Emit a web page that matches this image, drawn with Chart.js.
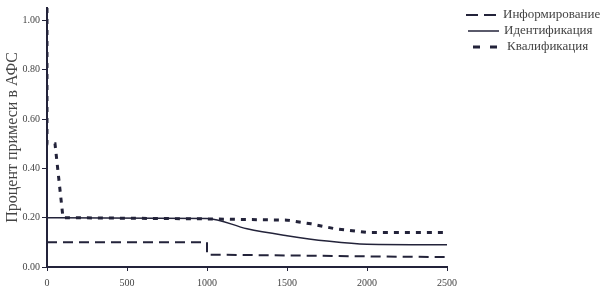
<!DOCTYPE html>
<html>
<head>
<meta charset="utf-8">
<script src="https://cdn.jsdelivr.net/npm/chart.js@4.4.0/dist/chart.umd.min.js"></script>
<style>
  html, body { margin: 0; padding: 0; background: #fff; }
  #wrap { width: 604px; height: 295px; }
</style>
</head>
<body>
<div id="wrap"><canvas id="chart" width="604" height="295"></canvas></div>
<script>
// --- data ---
const seriesNames = ["Информирование", "Идентификация", "Квалификация"];

const infoX = [0, 1000, 1000, 1500, 2000, 2500];
const infoY = [0.10, 0.10, 0.05, 0.047, 0.043, 0.04];

const identX = [0, 1000, 1250, 1500, 1750, 2000, 2500];
const identY = [0.20, 0.197, 0.155, 0.127, 0.105, 0.092, 0.09];

const kvalX = [0, 0, 50, 100, 1000, 1500, 1650, 1800, 2000, 2500];
const kvalY = [1.05, 0.50, 0.50, 0.20, 0.195, 0.19, 0.175, 0.155, 0.14, 0.14];

const xTicks = [0, 500, 1000, 1500, 2000, 2500];
const yTicks = [0, 0.2, 0.4, 0.6, 0.8, 1.0];

const ink = "#23233a";
const textCol = "#444";

function toPoints(xs, ys) {
  return xs.map((x, i) => ({ x, y: ys[i] }));
}

// --- legend drawn in the right margin ---
const sideLegend = {
  id: "sideLegend",
  afterDraw(chart) {
    const ctx = chart.ctx;
    const rows = [
      { y: 15, x0: 466, x1: 499, tx: 503 },
      { y: 31, x0: 468, x1: 499, tx: 504 },
      { y: 47, x0: 473, x1: 499, tx: 507 },
    ];
    ctx.save();
    chart.data.datasets.forEach((ds, i) => {
      const r = rows[i];
      ctx.strokeStyle = ds.borderColor;
      ctx.lineWidth = ds.borderWidth;
      ctx.setLineDash(ds.legendDash || []);
      ctx.beginPath();
      ctx.moveTo(r.x0, r.y);
      ctx.lineTo(r.x1, r.y);
      ctx.stroke();
      ctx.setLineDash([]);
      ctx.fillStyle = textCol;
      ctx.font = "13px 'Liberation Serif', serif";
      ctx.textBaseline = "middle";
      ctx.fillText(ds.label, r.tx, r.y);
    });
    ctx.restore();
  },
};

new Chart(document.getElementById("chart"), {
  type: "scatter",
  data: {
    datasets: [
      {
        label: seriesNames[0],
        data: toPoints(infoX, infoY),
        borderColor: ink,
        borderWidth: 2,
        borderDash: [10, 6],
        legendDash: [12, 6],
      },
      {
        label: seriesNames[1],
        data: toPoints(identX, identY),
        borderColor: ink,
        borderWidth: 1.5,
        cubicInterpolationMode: "monotone",
      },
      {
        label: seriesNames[2],
        data: toPoints(kvalX, kvalY),
        borderColor: ink,
        borderWidth: 3,
        borderDash: [5, 6],
        legendDash: [7, 10],
      },
    ],
  },
  options: {
    responsive: false,
    animation: false,
    showLine: true,
    elements: { point: { radius: 0 }, line: { fill: false } },
    layout: { padding: { top: 7, right: 157, left: 3, bottom: 0 } },
    plugins: {
      legend: { display: false },
      tooltip: { enabled: false },
    },
    scales: {
      x: {
        type: "linear",
        min: xTicks[0],
        max: xTicks[xTicks.length - 1],
        afterBuildTicks: (scale) => {
          scale.ticks = xTicks.map((v) => ({ value: v }));
        },
        afterFit: (scale) => {
          scale.height = 28;
        },
        ticks: {
          color: textCol,
          font: { family: "'Liberation Serif', serif", size: 10 },
          padding: 6,
          maxRotation: 0,
          callback: (v) => String(v),
        },
        grid: { drawOnChartArea: false, tickLength: 4, color: ink },
        border: { color: ink, width: 2 },
      },
      y: {
        min: 0,
        max: 1.05,
        afterBuildTicks: (scale) => {
          scale.ticks = yTicks.map((v) => ({ value: v }));
        },
        afterFit: (scale) => {
          scale.width = 44;
        },
        ticks: {
          color: textCol,
          font: { family: "'Liberation Serif', serif", size: 10 },
          padding: 2,
          callback: (v) => Number(v).toFixed(2),
        },
        grid: { drawOnChartArea: false, tickLength: 5, color: ink },
        border: { color: ink, width: 2 },
        title: {
          display: true,
          text: "Процент примеси в АФС",
          color: textCol,
          font: { family: "'Liberation Serif', serif", size: 16 },
          padding: { top: 0, bottom: 2 },
        },
      },
    },
  },
  plugins: [sideLegend],
});
</script>
</body>
</html>
